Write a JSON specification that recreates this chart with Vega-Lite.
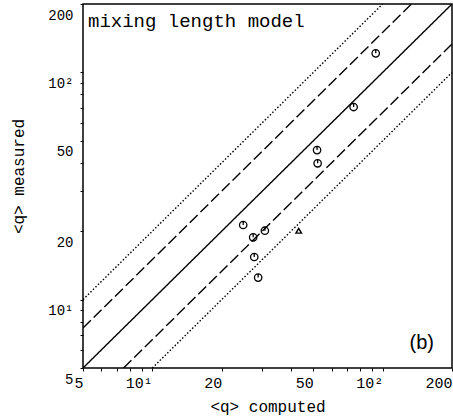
{
  "$schema": "https://vega.github.io/schema/vega-lite/v6.json",
  "width": 369,
  "height": 364,
  "autosize": "none",
  "padding": {"left": 83, "top": 4, "right": 1, "bottom": 51},
  "background": "white",
  "config": {
    "view": {"stroke": "black", "strokeWidth": 1.5},
    "font": "Liberation Mono",
    "axis": {"grid": false, "domain": false, "tickColor": "black", "labelColor": "black", "titleColor": "black", "titleFontWeight": "normal", "labelFont": "Liberation Mono", "titleFont": "Liberation Mono"}
  },
  "datasets": {
    "lines": [
      {"line": "solid", "style": "solid", "x": 5, "y": 5},
      {"line": "solid", "style": "solid", "x": 200, "y": 200},
      {"line": "dash_up", "style": "dashed", "x": 5, "y": 7.5},
      {"line": "dash_up", "style": "dashed", "x": 133.33, "y": 200},
      {"line": "dash_lo", "style": "dashed", "x": 7.5, "y": 5},
      {"line": "dash_lo", "style": "dashed", "x": 200, "y": 133.33},
      {"line": "dot_up", "style": "dotted", "x": 5, "y": 10},
      {"line": "dot_up", "style": "dotted", "x": 100, "y": 200},
      {"line": "dot_lo", "style": "dotted", "x": 10, "y": 5},
      {"line": "dot_lo", "style": "dotted", "x": 200, "y": 100}
    ],
    "circles": [
      {"computed": 93.3, "measured": 121.3},
      {"computed": 74.8, "measured": 70.4},
      {"computed": 51.9, "measured": 45.5},
      {"computed": 52.2, "measured": 39.8},
      {"computed": 24.8, "measured": 21.3},
      {"computed": 27.4, "measured": 18.8},
      {"computed": 30.8, "measured": 20.1},
      {"computed": 27.7, "measured": 15.4},
      {"computed": 28.8, "measured": 12.5}
    ],
    "triangles": [
      {"computed": 43.2, "measured": 20.1}
    ],
    "labels": [
      {"label": "mixing length model"}
    ],
    "panel": [
      {"label": "(b)"}
    ]
  },
  "resolve": {"axis": {"x": "independent", "y": "independent"}},
  "layer": [
    {
      "data": {"name": "lines"},
      "mark": {"type": "line", "color": "black", "strokeWidth": 1.4, "clip": true},
      "encoding": {
        "x": {"field": "x", "type": "quantitative", "scale": {"type": "log", "domain": [5, 200], "nice": false, "zero": false},
          "axis": {"orient": "bottom", "title": "<q> computed", "values": [5, 10, 20, 50, 100, 200],
            "labelExpr": "datum.value == 10 ? '10¹' : datum.value == 100 ? '10²' : format(datum.value, 'd')",
            "labelAlign": "right", "labelFlush": false, "labelOverlap": false, "labelFontSize": 15, "labelPadding": 4, "tickSize": 3,
            "titleFontSize": 16, "titlePadding": 8}},
        "y": {"field": "y", "type": "quantitative", "scale": {"type": "log", "domain": [5, 200], "nice": false, "zero": false},
          "axis": {"orient": "left", "title": "<q> measured", "values": [5, 10, 20, 50, 100, 200],
            "labelExpr": "datum.value == 10 ? '10¹' : datum.value == 100 ? '10²' : format(datum.value, 'd')",
            "labelBaseline": "top", "labelOffset": 4, "labelFlush": false, "labelOverlap": false, "labelFontSize": 14, "labelPadding": 7, "tickSize": 3,
            "titleFontSize": 16, "titlePadding": 21, "titleY": 172}},
        "detail": {"field": "line"},
        "strokeDash": {"field": "style", "type": "nominal", "scale": {"domain": ["solid", "dashed", "dotted"], "range": [[1, 0], [11, 4], [1.5, 2]]}, "legend": null}
      }
    },
    {
      "data": {"name": "triangles"},
      "mark": {"type": "point", "shape": "triangle-up", "filled": false, "color": "black", "strokeWidth": 1.4, "size": 30, "opacity": 1},
      "encoding": {
        "x": {"field": "computed", "type": "quantitative", "scale": {"type": "log", "domain": [5, 200], "nice": false, "zero": false},
          "axis": {"orient": "bottom", "title": null, "values": [6, 7, 8, 9, 30, 40, 60, 70, 80, 90], "labels": false, "tickSize": 3}},
        "y": {"field": "measured", "type": "quantitative", "scale": {"type": "log", "domain": [5, 200], "nice": false, "zero": false},
          "axis": {"orient": "left", "title": null, "values": [6, 7, 8, 9, 30, 40, 60, 70, 80, 90], "labels": false, "tickSize": 3}}
      }
    },
    {
      "data": {"name": "circles"},
      "mark": {"type": "point", "shape": "M-1,0A1,1,0,1,1,1,0A1,1,0,1,1,-1,0ZM0,-1L0,0", "filled": false, "color": "black", "strokeWidth": 1.3, "size": 55, "opacity": 1},
      "encoding": {
        "x": {"field": "computed", "type": "quantitative", "scale": {"type": "log", "domain": [5, 200], "nice": false, "zero": false}, "axis": null},
        "y": {"field": "measured", "type": "quantitative", "scale": {"type": "log", "domain": [5, 200], "nice": false, "zero": false}, "axis": null}
      }
    },
    {
      "data": {"name": "labels"},
      "mark": {"type": "text", "font": "Liberation Mono", "fontSize": 19, "align": "left", "baseline": "alphabetic", "dx": 5, "dy": 23, "color": "black"},
      "encoding": {
        "text": {"field": "label"},
        "x": {"datum": 5, "type": "quantitative", "scale": {"type": "log", "domain": [5, 200], "nice": false, "zero": false}, "axis": null},
        "y": {"datum": 200, "type": "quantitative", "scale": {"type": "log", "domain": [5, 200], "nice": false, "zero": false}, "axis": null}
      }
    },
    {
      "data": {"name": "panel"},
      "mark": {"type": "text", "font": "Liberation Sans", "fontSize": 20, "align": "right", "baseline": "alphabetic", "dx": -18, "dy": -19, "color": "black"},
      "encoding": {
        "text": {"field": "label"},
        "x": {"datum": 200, "type": "quantitative", "scale": {"type": "log", "domain": [5, 200], "nice": false, "zero": false}, "axis": null},
        "y": {"datum": 5, "type": "quantitative", "scale": {"type": "log", "domain": [5, 200], "nice": false, "zero": false}, "axis": null}
      }
    }
  ]
}
